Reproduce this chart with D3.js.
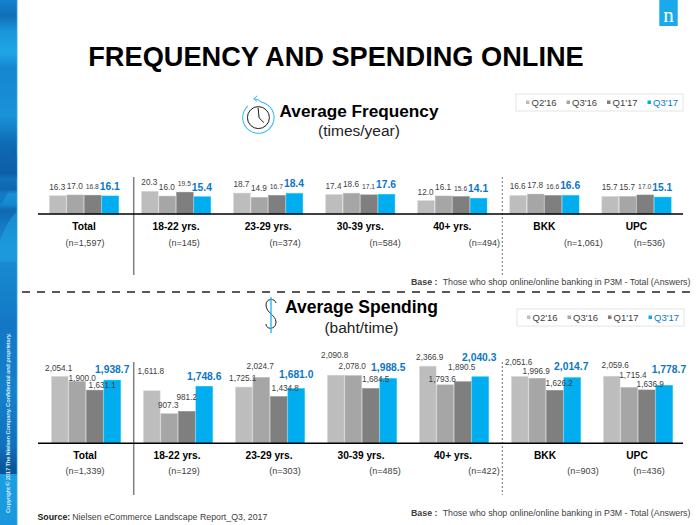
<!DOCTYPE html>
<html lang="en">
<head>
  <meta charset="UTF-8" />
  <title>Frequency and Spending Online</title>
  <script src="https://cdn.jsdelivr.net/npm/d3@7"></script>
  <style>
    html, body { margin: 0; padding: 0; background: #fff; }
    svg { display: block; font-family: "Liberation Sans", Arial, sans-serif; }
  </style>
</head>
<body>
  <svg id="chart" width="700" height="525"></svg>
  <script>
    // Chart data
    var groups = ["Total", "18-22 yrs.", "23-29 yrs.", "30-39 yrs.", "40+ yrs.", "BKK", "UPC"];
    var quarters = ["Q2'16", "Q3'16", "Q1'17", "Q3'17"];
    var freqValues = [
      [16.3, 17.0, 16.8, 16.1],
      [20.3, 16.0, 19.5, 15.4],
      [18.7, 14.9, 16.7, 18.4],
      [17.4, 18.6, 17.1, 17.6],
      [12.0, 16.1, 15.6, 14.1],
      [16.6, 17.8, 16.6, 16.6],
      [15.7, 15.7, 17.0, 15.1]
    ];
    var spendValues = [
      [2054.1, 1900.0, 1631.1, 1938.7],
      [1611.8, 907.3, 981.2, 1748.6],
      [1725.1, 2024.7, 1434.8, 1681.0],
      [2090.8, 2078.0, 1684.5, 1988.5],
      [2366.9, 1793.6, 1890.5, 2040.3],
      [2051.6, 1996.9, 1626.2, 2014.7],
      [2059.6, 1715.4, 1636.9, 1778.7]
    ];
    var freqBase = ["n=1,597", "n=145", "n=374", "n=584", "n=494", "n=1,061", "n=536"];
    var spendBase = ["n=1,339", "n=129", "n=303", "n=485", "n=422", "n=903", "n=436"];

    // Label placement: the source slide nudges its spending labels by hand
    var spendLabelDx = [
      [-1, 5, 7.5, 0],
      [-1, -1, 0, 0],
      [-1, -1, 6.5, 0],
      [-1, -1, 5, 0],
      [2, -3, -1, -1],
      [-1, -1, 4.5, -1],
      [3.5, 3.7, 3.5, 4.7]
    ];
    var spendLabelGap = [
      [5.6, 0.7, 1.7, 7],
      [16.7, 5.7, 11.7, 6.3],
      [5.7, 8, 5.7, 10],
      [17, 6.4, 6, 7],
      [5.7, 3.3, 11.3, 15.3],
      [11, 4.7, 4.3, 7.3],
      [8.6, 9.7, 3.3, 12.4]
    ];
    var baseLabelDx = [1, 8, 17, 25, 32, 39, 13];

    var barColors = ["#bdbdbd", "#a6a6a6", "#7f7f7f", "#00aeef"];
    var textGray = "#404040";
    var textBlue = "#0b76c8";

    var svg = d3.select("#chart");
    var defs = svg.append("defs");

    // Left decorative band
    var bandStops = [
      [0, "#1283cf"], [0.03, "#0f6fb8"], [0.06, "#1a96da"], [0.10, "#1ea6e4"],
      [0.13, "#1585d0"], [0.22, "#1a93d9"], [0.27, "#0f6cb6"], [0.33, "#0a4f93"],
      [0.34, "#1478c2"], [0.36, "#0e62aa"], [0.37, "#1a92d8"], [0.39, "#1387d0"],
      [0.40, "#0f68b0"], [0.47, "#1a8fd6"], [0.62, "#1277c4"], [0.75, "#1480cc"],
      [0.85, "#1070bc"], [0.89, "#0a559c"], [0.902, "#0a559c"], [0.904, "#1a9fe2"],
      [1, "#1a96dc"]
    ];
    var bandGrad = defs.append("linearGradient").attr("id", "band")
      .attr("x1", 0).attr("y1", 0).attr("x2", 0).attr("y2", 1);
    bandStops.forEach(function(s) {
      bandGrad.append("stop").attr("offset", s[0]).attr("stop-color", s[1]);
    });
    svg.append("rect").attr("width", 17).attr("height", 525).attr("fill", "url(#band)");
    svg.append("line").attr("x1", 17.2).attr("x2", 17.2).attr("y1", 0).attr("y2", 525)
      .attr("stroke", "#5cbcec").attr("stroke-width", 0.8);
    svg.append("path").attr("d", "M0,140 L17,157 L17,178 C10,190 4,200 0,205 Z")
      .attr("fill", "#0f6cb6").attr("opacity", 0.55);
    svg.append("path").attr("d", "M0,240 C6,225 12,215 17,212 L17,262 L0,262 Z")
      .attr("fill", "#1ea0e2").attr("opacity", 0.6);
    svg.append("text")
      .attr("transform", "translate(10,513) rotate(-90)")
      .attr("fill", "#d5ebf8").attr("font-size", 5.9).attr("font-weight", "bold")
      .attr("textLength", 180)
      .text("Copyright © 2017 The Nielsen Company. Confidential and proprietary.");

    // Logo
    svg.append("rect").attr("x", 659.3).attr("y", 0).attr("width", 18.4).attr("height", 26).attr("fill", "#19a9ec");
    svg.append("text").attr("x", 668.5).attr("y", 21.5).attr("text-anchor", "middle")
      .attr("fill", "#fff").attr("font-family", "'Liberation Serif', serif").attr("font-size", 21).text("n");

    // Title
    svg.append("text").attr("x", 336).attr("y", 66).attr("text-anchor", "middle")
      .attr("font-size", 27.2).attr("font-weight", "bold").attr("fill", "#000")
      .text("FREQUENCY AND SPENDING ONLINE");

    // Clock icon
    var clock = svg.append("g").attr("transform", "translate(258.4,117.6)");
    clock.append("circle").attr("r", 11).attr("fill", "none").attr("stroke", "#1a1a1a").attr("stroke-width", 1);
    clock.append("path").attr("d", "M-0.3,-10 L0.7,0.3 L5.5,5").attr("fill", "none").attr("stroke", "#1a1a1a").attr("stroke-width", 1);
    clock.append("path")
      .attr("d", d3.arc().innerRadius(15.2).outerRadius(16.2).startAngle(0.2).endAngle(Math.PI * 2 - 0.75)())
      .attr("fill", "#29b6f0");
    clock.append("path").attr("d", "M-1.2,-21.8 L-4.6,-18.8 L-1.2,-16 M-4.6,-18.8 Q-0.5,-18.8 3.2,-15.4")
      .attr("fill", "none").attr("stroke", "#29b6f0").attr("stroke-width", 1);

    // Dollar icon
    svg.append("path").attr("d", "M276,303 C275,298 266,298 266,305 C266,313 276,315 276,322 C276,330 266,330 266,324")
      .attr("fill", "none").attr("stroke", "#222").attr("stroke-width", 1);
    svg.append("line").attr("x1", 271).attr("x2", 271).attr("y1", 297).attr("y2", 333)
      .attr("stroke", "#29b6f0").attr("stroke-width", 1.4);

    // Section headings
    svg.append("text").attr("x", 279.6).attr("y", 116.5).attr("font-size", 17.2).attr("font-weight", "bold").text("Average Frequency");
    svg.append("text").attr("x", 359).attr("y", 136).attr("text-anchor", "middle").attr("font-size", 15.5).attr("fill", "#222").text("(times/year)");
    svg.append("text").attr("x", 285).attr("y", 312.5).attr("font-size", 17.5).attr("font-weight", "bold").text("Average Spending");
    svg.append("text").attr("x", 361.5).attr("y", 332.5).attr("text-anchor", "middle").attr("font-size", 15.5).attr("fill", "#222").text("(baht/time)");

    // Long dashed divider
    svg.append("line").attr("x1", 22).attr("x2", 696).attr("y1", 292).attr("y2", 292)
      .attr("stroke", "#595959").attr("stroke-width", 2).attr("stroke-dasharray", "8,7");

    function drawLegend(x, y) {
      var g = svg.append("g").attr("transform", "translate(" + x + "," + y + ")");
      g.append("rect").attr("width", 167).attr("height", 17).attr("fill", "#fff")
        .attr("stroke", "#e4e4e4").attr("stroke-width", 1);
      var item = g.selectAll("g").data(quarters).enter().append("g")
        .attr("transform", function(d, i) { return "translate(" + (10 + i * 40.5) + ",0)"; });
      item.append("rect").attr("y", 6.5).attr("width", 3.5).attr("height", 3.5)
        .attr("fill", function(d, i) { return barColors[i]; });
      item.append("text").attr("x", 5.5).attr("y", 12).attr("font-size", 9.5)
        .attr("fill", function(d, i) { return i === 3 ? textBlue : textGray; })
        .text(function(d) { return d; });
    }

    function drawBaseNote(y) {
      var t = svg.append("text").attr("x", 411).attr("y", y).attr("font-size", 8.8).attr("fill", textGray);
      t.append("tspan").attr("font-weight", "bold").text("Base :");
      t.append("tspan").attr("dx", 3).text(" Those who shop online/online banking in P3M - Total (Answers)");
    }

    // One panel of grouped bars with its axis, labels and separators
    function drawPanel(opt) {
      var x0 = d3.scaleBand().domain(groups).range(opt.xRange).paddingInner(22 / 92);
      var x1 = d3.scaleBand().domain(d3.range(4)).range([0, x0.bandwidth()]);
      var y = d3.scaleLinear().domain(opt.yDomain).range([opt.base, opt.yTop]);

      var g = svg.append("g");
      var group = g.selectAll("g.grp").data(opt.values).enter().append("g").attr("class", "grp")
        .attr("transform", function(d, i) { return "translate(" + x0(groups[i]) + ",0)"; });

      group.selectAll("rect").data(function(d) { return d; }).enter().append("rect")
        .attr("x", function(d, i) { return x1(i) + 0.4; })
        .attr("width", x1.bandwidth() - 0.8)
        .attr("y", function(d) { return y(d); })
        .attr("height", function(d) { return opt.base - y(d); })
        .attr("fill", function(d, i) { return barColors[i]; })
        .attr("stroke", function(d, i) { return d3.color(barColors[i]).brighter(0.4); })
        .attr("stroke-width", 0.5);

      // Separators go under the labels
      g.append("line").attr("x1", 133.7).attr("x2", 133.7).attr("y1", opt.sepTop).attr("y2", opt.sepBottom)
        .attr("stroke", "#808080").attr("stroke-width", 1.5);
      g.append("line").attr("x1", 502.3).attr("x2", 502.3).attr("y1", opt.sepTop).attr("y2", opt.sepBottom)
        .attr("stroke", "#707070").attr("stroke-width", 1).attr("stroke-dasharray", "2,2");

      group.each(function(row, gi) {
        d3.select(this).selectAll("text").data(row).enter().append("text")
          .attr("text-anchor", "middle")
          .attr("x", function(d, i) { return x1(i) + x1.bandwidth() / 2 + opt.labelDx(gi, i); })
          .attr("y", function(d, i) { return y(d) - opt.labelGap(gi, i); })
          .attr("font-size", function(d, i) { return opt.labelSize(i); })
          .attr("font-weight", function(d, i) { return i === 3 ? "bold" : "normal"; })
          .attr("fill", function(d, i) { return i === 3 ? textBlue : textGray; })
          .text(function(d) { return opt.format(d); });
      });

      // Axis line and group names
      g.append("line").attr("x1", 38).attr("x2", 683).attr("y1", opt.base).attr("y2", opt.base)
        .attr("stroke", "#000").attr("stroke-width", 1.5);
      var axis = g.append("g").attr("transform", "translate(" + opt.nameShift + "," + opt.base + ")")
        .call(d3.axisBottom(x0).tickSize(0).tickPadding(0));
      axis.select(".domain").remove();
      axis.selectAll("text").attr("y", opt.nameY - opt.base).attr("dy", 0)
        .attr("font-family", "inherit").attr("font-size", 10.2).attr("font-weight", "bold").attr("fill", "#000");

      g.selectAll("text.nbase").data(opt.baseLabels).enter().append("text").attr("class", "nbase")
        .attr("text-anchor", "middle")
        .attr("x", function(d, i) { return 85 - 1 + (x0(groups[i]) - x0(groups[0])) + baseLabelDx[i]; })
        .attr("y", opt.nY).attr("font-size", 9).attr("fill", textGray)
        .text(function(d) { return "(" + d + ")"; });
    }

    drawPanel({
      values: freqValues, baseLabels: freqBase,
      xRange: [49, 671.5], base: 214, yDomain: [0, 25], yTop: 186,
      sepTop: 177, sepBottom: 275, nameY: 230, nY: 245.7, nameShift: 0,
      format: d3.format(".1f"),
      labelDx: function() { return -0.5; },
      labelGap: function() { return 6; },
      labelSize: function(i) { return i === 3 ? 10.3 : (i === 2 ? 6.8 : 8.2); }
    });

    drawPanel({
      values: spendValues, baseLabels: spendBase,
      xRange: [51, 673], base: 443.3, yDomain: [0, 2500], yTop: 361.8,
      sepTop: 362, sepBottom: 495, nameY: 459.3, nY: 474.3, nameShift: -1,
      format: d3.format(",.1f"),
      labelDx: function(g, i) { return spendLabelDx[g][i]; },
      labelGap: function(g, i) { return spendLabelGap[g][i]; },
      labelSize: function(i) { return i === 3 ? 10.3 : 8.2; }
    });

    drawLegend(516, 94);
    drawLegend(517, 309);
    drawBaseNote(285);
    drawBaseNote(516);

    // Source line
    var src = svg.append("text").attr("x", 37.5).attr("y", 520).attr("font-size", 8.8).attr("fill", textGray);
    src.append("tspan").attr("font-weight", "bold").attr("fill", "#222").text("Source:");
    src.append("tspan").attr("dx", 2).text("Nielsen eCommerce Landscape Report_Q3, 2017");
  </script>
</body>
</html>
